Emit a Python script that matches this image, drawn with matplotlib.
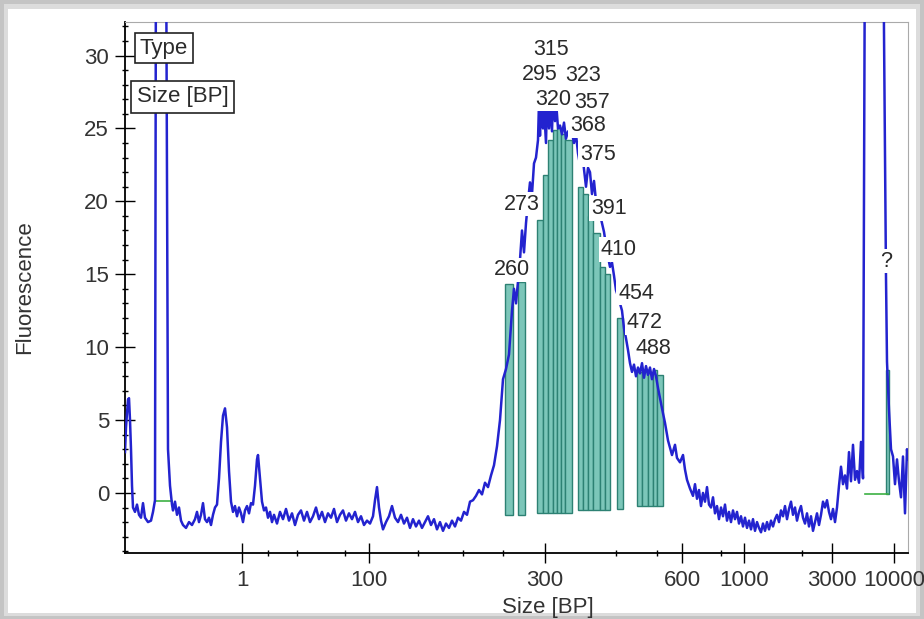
import numpy as np
import matplotlib.pyplot as plt
from matplotlib.patches import Rectangle

plt.rcParams['font.family'] = ['Liberation Sans', 'DejaVu Sans']

# electropherogram trace: migration position (scan units) and fluorescence
pos = [125, 126, 127, 128, 129, 130, 131, 132, 133, 135, 137, 139, 141, 143, 145, 148, 151, 153, 155,
       156, 166, 168, 170, 172, 173, 175, 177, 179, 181, 183, 186, 189, 192, 195, 197, 199, 201, 203,
       205, 207, 209, 211, 213, 215, 217, 219, 221, 223, 225, 227, 229, 231, 233, 235, 237, 239, 241,
       243, 245, 247, 249, 251, 253, 255, 257, 258, 260, 262, 264, 266, 268, 270, 272,
       274, 277, 280, 283, 286, 289, 292, 295, 298, 301, 304, 307, 310, 313, 316, 319, 322, 325, 328,
       331, 334, 337, 340, 343, 346, 349, 352, 355, 358, 361, 364, 367, 370, 373, 375, 377, 379, 381,
       383, 386, 389, 392, 395, 398, 401, 404, 407, 410, 413, 416, 419, 422, 425, 428, 431, 434, 437,
       440, 443, 446, 449, 452, 455, 458, 461, 464, 467, 470, 473, 476, 479, 482, 485, 488, 491, 494,
       497, 500, 503, 506, 509, 512, 514, 516, 518, 520, 522, 524, 526, 528, 530, 532, 534, 536, 538,
       539, 540, 541, 543, 544, 546, 547, 549, 550, 552, 553, 555, 556, 558, 560, 562, 564, 566, 568,
       570, 572, 574, 576, 578, 580, 582, 584, 586, 588, 590, 592, 594, 596, 598, 600, 602, 604, 606,
       608, 610, 612, 614, 616, 618, 620, 622, 624, 626, 628, 630, 632, 634, 636, 638, 640, 642, 644,
       646, 648, 650, 652, 654, 656, 658, 660, 662, 665, 668, 672, 675, 677, 680, 683, 685, 687,
       690, 693, 695, 697, 699, 701, 703, 705, 707, 709, 711, 713, 715, 717, 719, 721, 723, 725, 727,
       729, 731, 733, 735, 737, 739, 741, 743, 745, 747, 749, 751, 753, 755, 757, 759, 761, 763, 765,
       767, 769, 771, 773, 775, 777, 779, 781, 783, 785, 787, 789, 791, 793, 795, 797, 799, 801, 803,
       805, 807, 809, 811, 813, 815, 817, 819, 821, 823, 825, 827, 829, 831, 833, 835, 837, 839, 841,
       843, 845, 847, 849, 851, 853, 855, 857, 859, 861, 863, 865, 883, 886, 887, 889, 891, 893, 895,
       897, 899, 901, 903, 905, 907, 908]
fluor = [2.8, 4.5, 5.5, 6.4, 6.5, 5.0, 3.0, 0.5, -1.0, -1.3, -0.8, -1.5, -1.7, -0.7, -1.7, -2.0, -1.9, -1.3, -0.5,
         40, 40, 3.0, 0.5, -0.8, -1.2, -0.6, -1.5, -1.0, -1.9, -2.2, -2.4, -2.0, -2.2, -1.8, -1.3, -2.0, -1.5, -0.7,
         -1.8, -2.0, -1.7, -2.2, -1.5, -1.0, -0.8, 1.0, 3.5, 5.3, 5.8, 4.5, 1.5, -0.6, -1.3, -0.9, -1.6, -1.0, -1.4,
         -2.0, -1.2, -0.9, -1.4, -0.7, -0.8, 0.5, 2.3, 2.6, 1.0, -0.6, -1.2, -1.0, -1.7, -1.3, -2.0,
         -1.5, -2.1, -1.3, -1.8, -1.1, -1.9, -1.4, -2.2, -1.5, -1.2, -1.9, -1.3, -2.0, -1.6, -1.0, -1.8, -1.3, -2.0, -1.4,
         -1.7, -1.1, -2.0, -1.5, -1.2, -1.9, -1.4, -1.8, -1.3, -2.0, -1.6, -2.2, -1.9, -2.1, -1.6, -0.5, 0.4, -1.0, -1.9,
         -2.5, -2.0, -1.6, -0.9, -1.7, -2.0, -1.5, -2.1, -1.7, -2.4, -1.8, -2.3, -1.9, -2.4, -2.0, -1.6, -2.2, -1.8, -2.5,
         -2.0, -2.6, -2.1, -2.4, -1.9, -2.3, -1.7, -1.9, -1.3, -1.5, -0.6, -0.5, -0.2, 0.2, -0.1, 0.7, 0.4, 1.2, 1.9,
         3.2, 5.0, 7.8, 8.5, 9.5, 12.5, 14.0, 13.0, 14.5, 16.0, 18.0, 16.5, 18.5, 20.0, 21.3, 20.5, 22.6, 23.0, 24.2,
         26.8, 24.5, 27.1, 25.0, 26.5, 24.0, 27.0, 25.0, 26.8, 24.8, 27.0, 25.5, 26.9, 25.0, 25.2, 24.6, 25.4, 24.3, 24.8,
         24.5, 24.7, 24.0, 24.6, 23.3, 22.5, 23.5, 22.2, 21.0, 22.3, 22.0, 20.5, 21.4, 20.0, 19.2, 19.1, 18.5, 17.9, 17.0,
         16.2, 15.5, 15.8, 14.9, 13.9, 13.5, 13.0, 12.5, 11.3, 10.6, 9.8, 8.9, 8.3, 8.8, 8.0, 8.6, 8.2, 8.9, 7.9,
         8.7, 8.1, 8.6, 7.8, 8.5, 8.0, 7.2, 6.5, 5.8, 4.8, 3.6, 2.6, 3.3, 2.4, 2.1, 2.6, 1.6, 0.9,
         0.3, -0.2, 0.6, -0.4, 0.2, -0.9, 0.0, -0.6, 0.4, -0.8, -1.0, -0.3, -1.4, -0.9, -1.8, -1.0, -1.6, -0.8, -1.9,
         -1.3, -2.0, -1.2, -1.8, -1.3, -2.1, -1.6, -2.3, -1.7, -2.4, -1.9, -2.5, -1.8, -2.6, -2.0, -2.4, -2.7, -2.1, -2.6,
         -2.0, -2.5, -1.9, -2.3, -1.8, -1.5, -2.0, -1.2, -1.6, -0.9, -1.8, -1.1, -0.6, -1.5, -1.0, -1.9, -1.3, -0.9, -1.7,
         -2.1, -1.4, -2.3, -1.6, -2.6, -2.0, -1.4, -2.2, -1.5, -0.6, -1.0, -0.5, -1.3, -1.8, -1.1, -2.0, -1.0, 0.5, 1.8,
         0.6, 1.2, 0.3, 2.8, 0.8, 3.3, 0.9, 1.5, 0.7, 3.5, 1.0, 40, 40, 14.8, 9.0, 5.7, 3.0, 2.5, 0.6,
         2.3, 0.8, -0.3, 2.5, -1.4, 3.0, 2.3]

# integrated peak areas (start, end, top, baseline)
area_start = [505, 518, 537, 543, 548, 553, 557, 561, 565, 578, 583, 588, 593, 600, 605, 617,
              637, 642, 648, 653, 657, 886]
area_end = [513, 525, 543, 548, 553, 557, 561, 565, 572, 583, 588, 593, 600, 605, 610, 623,
            642, 648, 653, 657, 663, 889]
area_top = [14.3, 14.5, 18.7, 21.8, 24.2, 24.9, 25.0, 24.6, 24.2, 21.0, 20.5, 19.0, 17.8, 15.5, 15.0, 12.0,
            8.3, 8.4, 8.2, 8.4, 8.1, 8.4]
area_base = [-1.5, -1.5, -1.4, -1.4, -1.4, -1.4, -1.4, -1.4, -1.4, -1.2, -1.2, -1.2, -1.2, -1.2, -1.2, -1.1,
             -0.9, -0.9, -0.9, -0.9, -0.9, -0.1]

# marker baselines (green)
marker_start = [155, 865]
marker_end = [172, 888]
marker_level = [-0.55, -0.1]

# peak size labels
label_text = ['315', '323', '368', '357', '320', '295', '260', '273', '375', '391', '410', '454', '472', '488', '?']
label_x = [551, 583, 588, 592, 553, 540, 512, 522, 598, 609, 619, 636, 645, 653, 886]
label_y = [30.4, 28.6, 25.2, 26.8, 27.0, 28.7, 15.3, 19.8, 23.2, 19.5, 16.7, 13.7, 11.7, 9.9, 15.9]

# x axis (size ladder) ticks
tick_pos = [242, 369, 545, 682, 744, 832, 894]
tick_lab = ['1', '100', '300', '600', '1000', '3000', '10000']
minor_pos = [268, 297, 345, 418, 463, 503, 616, 657, 721, 802]

fig = plt.figure(figsize=(9.24, 6.19), dpi=100, facecolor='#c4c4c4')
# screenshot frame
fig.add_artist(Rectangle((4/924, 3/619), 916/924, 612/619, transform=fig.transFigure,
                         fc='#dcdcdc', ec='none', zorder=0))
fig.add_artist(Rectangle((8/924, 6/619), 908/924, 604/619, transform=fig.transFigure,
                         fc='white', ec='none', zorder=0))

ax = fig.add_axes([125/924, 1 - 553/619, 783/924, 531/619])
ax.set_facecolor('none')

for s, e, t, b in zip(area_start, area_end, area_top, area_base):
    ax.add_patch(Rectangle((s, b), e - s, t - b, fc='#7cc6b9', ec='#2d8173', lw=1, zorder=2))

for s, e, lv in zip(marker_start, marker_end, marker_level):
    ax.plot([s, e], [lv, lv], color='#3cb043', lw=1.2, zorder=2)

ax.plot(pos, fluor, color='#2323cf', lw=1.8, zorder=3)

for t, x, y in zip(label_text, label_x, label_y):
    ax.text(x, y, t, ha='center', va='center', fontsize=15.5, color='#2a2a2a', zorder=5,
            bbox=dict(boxstyle='square,pad=0.08', fc='white', ec='none'))

ax.set_xlim(125, 908)
ax.set_ylim(-4.12, 32.3)
ax.set_xticks(tick_pos)
ax.set_xticklabels(tick_lab)
ax.set_xticks(minor_pos, minor=True)
ax.set_yticks(np.arange(0, 31, 5))
ax.set_yticks(np.arange(-4, 33, 1), minor=True)
ax.tick_params(which='major', direction='inout', length=15, width=1, labelsize=16,
               labelcolor='#333333', pad=4)
ax.tick_params(which='minor', direction='inout', length=4.5, width=1)
ax.tick_params(axis='x', which='major', pad=5)

for side in ['top', 'right']:
    ax.spines[side].set_color('#aaaaaa')
    ax.spines[side].set_linewidth(0.8)
for side in ['left', 'bottom']:
    ax.spines[side].set_linewidth(1.3)

ax.set_xlabel('Size [BP]', fontsize=16, color='#333333')
ax.xaxis.set_label_coords(0.540, -0.082)
ax.set_ylabel('Fluorescence', fontsize=16, color='#333333', va='center')
ax.yaxis.set_label_coords(-0.128, 0.5)

ax.text(0.019, 0.951, 'Type', transform=ax.transAxes, fontsize=16, color='#2a2a2a', va='center', zorder=6,
        bbox=dict(boxstyle='square,pad=0.2', fc='white', ec='#222222', lw=1.2))
ax.text(0.0153, 0.859, 'Size [BP]', transform=ax.transAxes, fontsize=16, color='#2a2a2a', va='center',
        zorder=6, bbox=dict(boxstyle='square,pad=0.25', fc='white', ec='#222222', lw=1.2))

fig.savefig('out.png', dpi=100, facecolor=fig.get_facecolor())
